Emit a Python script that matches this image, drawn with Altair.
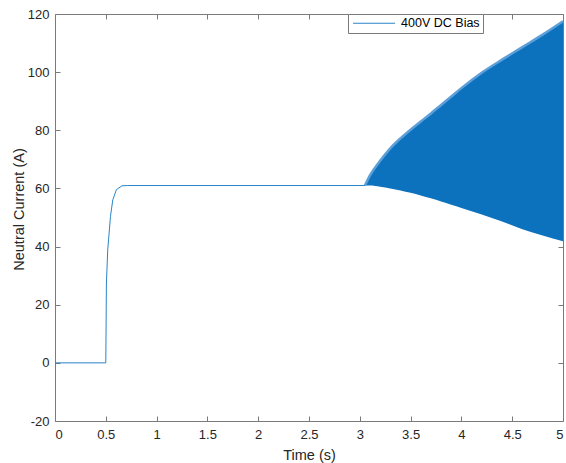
import altair as alt
import pandas as pd

series_name = "400V DC Bias"

# Main trace (before oscillation)
time_main = [0, 0.5, 0.506, 0.519, 0.546, 0.569, 0.605, 0.66, 0.71, 3.05]
current_main = [0, 0, 27.5, 38.9, 50.4, 56.1, 59.6, 60.9, 61.0, 61.0]

# Envelope of the oscillating part
env_time = [3.05, 3.1, 3.2, 3.3, 3.4, 3.5, 3.6, 3.7, 3.8, 3.9, 4.0, 4.2, 4.4, 4.6, 4.8, 5.0]
env_upper = [61, 64.5, 69.5, 73.8, 77.2, 80.2, 83, 85.8, 88.7, 91.6, 94.5, 99.8, 104.3, 108.6, 112.9, 117.5]
env_lower = [61, 61, 60.6, 60, 59.3, 58.5, 57.6, 56.6, 55.5, 54.4, 53.3, 51, 48.6, 46, 43.8, 41.8]

x_ticks = [0, 0.5, 1, 1.5, 2, 2.5, 3, 3.5, 4, 4.5, 5]
y_ticks = [-20, 0, 20, 40, 60, 80, 100, 120]

main_df = pd.DataFrame({"t": time_main, "i": current_main, "series": series_name})
env_df = pd.DataFrame({"t": env_time, "hi": env_upper, "lo": env_lower})

AX = "#7a7a7a"
TXT = "#262626"
FONT = "Liberation Sans"
LINE_BLUE = "#2a84c9"

xs = alt.Scale(domain=[0, 5], nice=False, zero=False)
ys = alt.Scale(domain=[-20, 120], nice=False, zero=False)

tick_common = dict(tickSize=5, offset=-5, domain=False, grid=False,
                   tickColor=AX, labelFont=FONT, labelFontSize=13,
                   labelColor=TXT, titleFont=FONT, titleColor=TXT,
                   titleFontWeight="normal", titleFontSize=14.5)

x_bottom = alt.Axis(orient="bottom", values=x_ticks, labelExpr="datum.value + ''",
                    labelPadding=7, title="Time (s)", titleY=43,
                    titleBaseline="alphabetic", **tick_common)
y_left = alt.Axis(orient="left", values=y_ticks, labelExpr="datum.value + ''",
                  labelPadding=6, title="Neutral Current (A)", titleX=-36.5,
                  titleY=195, titleBaseline="alphabetic", titleAngle=270,
                  **tick_common)
x_top = alt.Axis(orient="top", values=x_ticks, labels=False, title=None,
                 **tick_common)
y_right = alt.Axis(orient="right", values=y_ticks, labels=False, title=None,
                   **tick_common)

area = alt.Chart(env_df).mark_area(color="#0C72BD", interpolate="monotone").encode(
    x=alt.X("t:Q", scale=xs, axis=None),
    y=alt.Y("lo:Q", scale=ys, axis=None),
    y2="hi:Q",
)

edge = alt.Chart(env_df).mark_line(color="#5d9fd8", strokeWidth=2.5,
                                   interpolate="monotone").encode(
    x=alt.X("t:Q", scale=xs, axis=None),
    y=alt.Y("hi:Q", scale=ys, axis=None),
)

line = alt.Chart(main_df).mark_line(strokeWidth=1).encode(
    x=alt.X("t:Q", scale=xs, axis=x_bottom),
    y=alt.Y("i:Q", scale=ys, axis=y_left),
    color=alt.Color(
        "series:N",
        scale=alt.Scale(domain=[series_name], range=[LINE_BLUE]),
        legend=alt.Legend(
            title=None, orient="none", legendX=293, legendY=0,
            symbolType="M-1,0H9", symbolSize=70.6, symbolStrokeWidth=1,
            symbolFillColor="transparent",
            labelFont=FONT, labelFontSize=12.5, labelColor="#000",
            labelOffset=37.6, padding=3, strokeColor=AX, fillColor="white",
            cornerRadius=0,
        ),
    ),
)

mirror = alt.Chart(main_df).mark_line(opacity=0).encode(
    x=alt.X("t:Q", scale=xs, axis=x_top),
    y=alt.Y("i:Q", scale=ys, axis=y_right),
)

chart = (
    alt.layer(area, edge, line, mirror)
    .resolve_axis(x="independent", y="independent")
    .properties(
        width=508, height=407,
        autosize=alt.AutoSizeParams(type="none"),
        padding={"left": 55, "top": 14, "right": 3, "bottom": 42},
        background="white",
    )
    .configure_view(stroke=AX, strokeWidth=1)
)

chart.save("out.html", embed_options={"renderer": "svg", "actions": False})
